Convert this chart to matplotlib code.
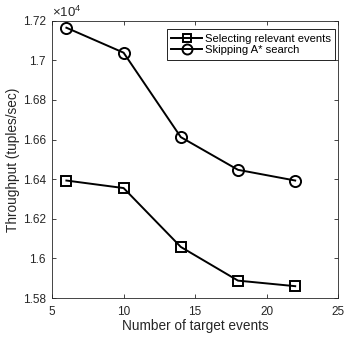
import matplotlib
matplotlib.use('Agg')
import matplotlib.pyplot as plt
from matplotlib.ticker import FuncFormatter

plt.rcParams['font.family'] = ['Liberation Sans', 'DejaVu Sans']
plt.rcParams['font.size'] = 8
plt.rcParams['mathtext.default'] = 'regular'

events = [6, 10, 14, 18, 22]
selecting = [16393, 16355, 16058, 15888, 15860]
skipping = [17164, 17038, 16612, 16447, 16393]
yticks = [15800, 16000, 16200, 16400, 16600, 16800, 17000, 17200]
xticks = [5, 10, 15, 20, 25]

fig = plt.figure(figsize=(3.45, 3.43), dpi=100)
ax = fig.add_axes([0.151, 0.131, 0.829, 0.809])

ax.plot(events, selecting, color='black', lw=1.4, marker='s', ms=6.5,
        mfc='none', mew=1.4, label='Selecting relevant events')
ax.plot(events, skipping, color='black', lw=1.4, marker='o', ms=8,
        mfc='none', mew=1.4, label='Skipping A* search')

ax.set_xlim(5, 25)
ax.set_ylim(15800, 17200)
ax.set_xticks(xticks)
ax.set_yticks(yticks)
ax.yaxis.set_major_formatter(FuncFormatter(lambda v, p: ('%g' % round(v / 1e4, 4))))
ax.tick_params(direction='in', top=True, right=True, length=3, width=0.6,
               labelsize=8.5, colors='#262626')
ax.tick_params(axis='x', pad=5.5)
ax.tick_params(axis='y', pad=4.5)
for s in ax.spines.values():
    s.set_linewidth(0.6)
    s.set_color('#262626')

ax.text(0.0, 1.003, '×10$^{4}$', transform=ax.transAxes, fontsize=9.5,
        ha='left', va='bottom', color='#262626')

ax.set_xlabel('Number of target events', fontsize=9.8, labelpad=1, color='#262626')
ax.set_ylabel('Throughput (tuples/sec)', fontsize=9.8, labelpad=2, color='#262626')

leg = ax.legend(loc='upper right', bbox_to_anchor=(0.9895, 0.968), fontsize=8.1,
                frameon=True, fancybox=False, edgecolor='black', framealpha=1,
                borderpad=0.4, handlelength=2.7, handletextpad=0.25,
                labelspacing=0.12, borderaxespad=0, markerscale=0.9)
leg.get_frame().set_linewidth(0.6)

fig.savefig('out.png', dpi=100)
